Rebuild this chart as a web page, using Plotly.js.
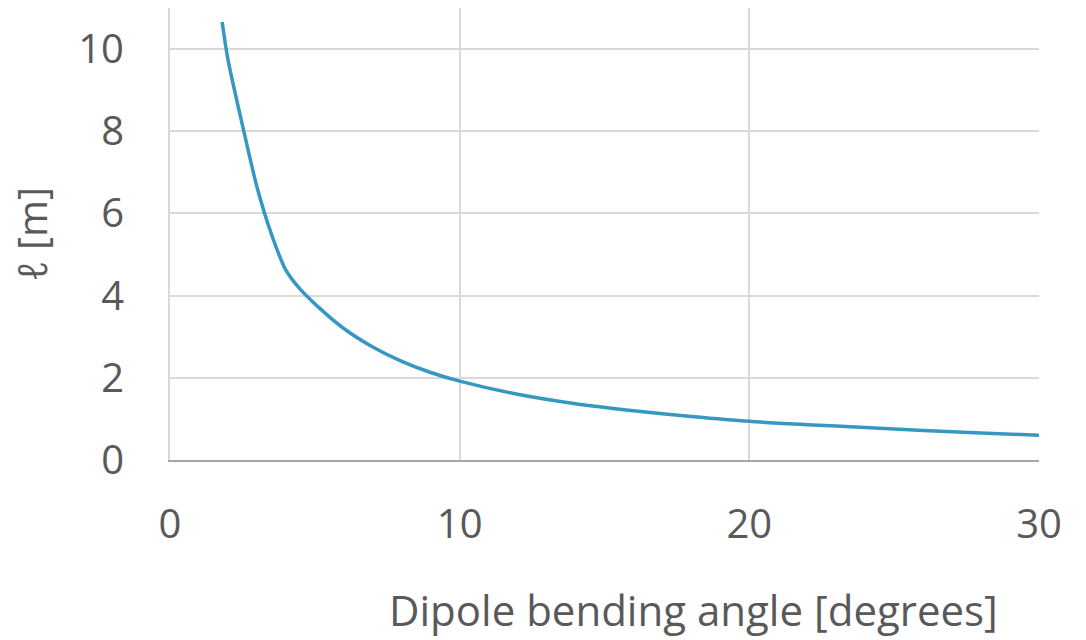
<!DOCTYPE html>
<html>
<head>
<meta charset="utf-8">
<script src="https://cdn.plot.ly/plotly-3.0.1.min.js"></script>
<style>html,body{margin:0;padding:0;background:#fff;}#chart{width:1086px;height:640px;}</style>
</head>
<body>
<div id="chart"></div>
<script>
// Dipole bending angle [degrees]
const angle = [1.8, 2, 2.5, 3, 3.5, 4, 4.5, 5, 6, 7, 8, 9, 10, 12, 14, 16, 18, 20, 22, 24, 26, 28, 30];
// Length ℓ [m]
const length = [10.66, 9.75, 8.15, 6.65, 5.5, 4.62, 4.15, 3.8, 3.2, 2.75, 2.4, 2.13, 1.92, 1.6, 1.37, 1.2, 1.06, 0.94, 0.86, 0.79, 0.72, 0.66, 0.6];
const xTicks = [0, 10, 20, 30];
const yTicks = [0, 2, 4, 6, 8, 10];
const xTitle = 'Dipole bending angle [degrees]';
const yTitle = 'ℓ [m]';

const fontFam = '"Open Sans", "Liberation Sans", sans-serif';
const grey = '#595959';

const trace = {
  x: angle,
  y: length,
  type: 'scatter',
  mode: 'lines',
  line: {color: '#3698c0', width: 3.5, shape: 'spline', smoothing: 0.8},
  hoverinfo: 'skip'
};

const layout = {
  width: 1086,
  height: 640,
  margin: {l: 170, r: 47, t: 8, b: 180},
  paper_bgcolor: '#ffffff',
  plot_bgcolor: '#ffffff',
  showlegend: false,
  font: {family: fontFam, color: grey, size: 40},
  xaxis: {
    range: [0, 30],
    tickvals: xTicks,
    ticktext: xTicks.map(String),
    showgrid: true,
    gridcolor: '#d9d9d9',
    gridwidth: 2,
    zeroline: false,
    showline: true,
    linecolor: '#a6a6a6',
    linewidth: 2,
    ticks: '',
    ticklabelstandoff: 28,
    tickfont: {family: fontFam, color: grey, size: 40}
  },
  yaxis: {
    range: [0, 11],
    tickvals: yTicks,
    ticktext: yTicks.map(String),
    showgrid: true,
    gridcolor: '#d9d9d9',
    gridwidth: 2,
    zeroline: false,
    showline: true,
    linecolor: '#d9d9d9',
    linewidth: 2,
    ticks: '',
    ticklabelstandoff: 36,
    tickfont: {family: fontFam, color: grey, size: 40},
    title: {text: yTitle, font: {family: fontFam, color: grey, size: 40}, standoff: 18}
  },
  annotations: [{
    text: xTitle,
    xref: 'paper', yref: 'paper',
    x: 0.6026, y: -0.33,
    xanchor: 'center', yanchor: 'middle',
    showarrow: false,
    font: {family: fontFam, color: grey, size: 42}
  }]
};

Plotly.newPlot('chart', [trace], layout, {displayModeBar: false, staticPlot: true});
</script>
</body>
</html>
